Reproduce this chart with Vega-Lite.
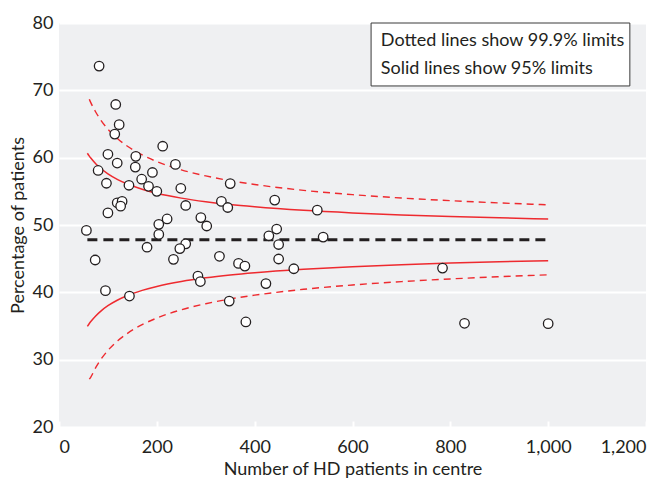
{
  "$schema": "https://vega.github.io/schema/vega-lite/v6.json",
  "width": 587,
  "height": 404,
  "autosize": {"type": "none"},
  "padding": {"left": 59, "top": 23, "right": 19, "bottom": 53},
  "background": "white",
  "config": {
    "font": "Lato",
    "view": {"fill": "#eff0f2", "stroke": null},
    "axis": {
      "labelFont": "Lato",
      "titleFont": "Lato",
      "labelFontSize": 18,
      "titleFontSize": 18,
      "titleFontWeight": "normal",
      "labelColor": "#231f20",
      "titleColor": "#231f20"
    }
  },
  "datasets": {
    "centres": [
      {"patients": 82, "pct": 73.6},
      {"patients": 116, "pct": 67.9},
      {"patients": 123, "pct": 64.9},
      {"patients": 114, "pct": 63.5},
      {"patients": 212, "pct": 61.7},
      {"patients": 100, "pct": 60.5},
      {"patients": 119, "pct": 59.2},
      {"patients": 157, "pct": 60.2},
      {"patients": 156, "pct": 58.6},
      {"patients": 238, "pct": 59.0},
      {"patients": 80, "pct": 58.1},
      {"patients": 191, "pct": 57.8},
      {"patients": 169, "pct": 56.8},
      {"patients": 97, "pct": 56.2},
      {"patients": 143, "pct": 55.9},
      {"patients": 183, "pct": 55.75},
      {"patients": 249, "pct": 55.45},
      {"patients": 200, "pct": 55.0},
      {"patients": 259, "pct": 52.9},
      {"patients": 119, "pct": 53.3},
      {"patients": 129, "pct": 53.5},
      {"patients": 126, "pct": 52.8},
      {"patients": 100, "pct": 51.8},
      {"patients": 56, "pct": 49.2},
      {"patients": 204, "pct": 50.1},
      {"patients": 221, "pct": 50.9},
      {"patients": 204, "pct": 48.6},
      {"patients": 290, "pct": 51.1},
      {"patients": 302, "pct": 49.85},
      {"patients": 180, "pct": 46.7},
      {"patients": 259, "pct": 47.2},
      {"patients": 247, "pct": 46.5},
      {"patients": 234, "pct": 44.9},
      {"patients": 74, "pct": 44.8},
      {"patients": 284, "pct": 42.4},
      {"patients": 289, "pct": 41.6},
      {"patients": 95, "pct": 40.25},
      {"patients": 144, "pct": 39.45},
      {"patients": 350, "pct": 56.15},
      {"patients": 332, "pct": 53.5},
      {"patients": 345, "pct": 52.6},
      {"patients": 441, "pct": 53.7},
      {"patients": 528, "pct": 52.2},
      {"patients": 445, "pct": 49.4},
      {"patients": 429, "pct": 48.4},
      {"patients": 449, "pct": 47.1},
      {"patients": 540, "pct": 48.2},
      {"patients": 328, "pct": 45.35},
      {"patients": 367, "pct": 44.3},
      {"patients": 380, "pct": 43.9},
      {"patients": 449, "pct": 44.95},
      {"patients": 480, "pct": 43.5},
      {"patients": 423, "pct": 41.3},
      {"patients": 348, "pct": 38.7},
      {"patients": 382, "pct": 35.6},
      {"patients": 784, "pct": 43.6},
      {"patients": 829, "pct": 35.4},
      {"patients": 1000, "pct": 35.35}
    ],
    "limits": [
      {"n": 58, "mean": 47.8, "lo95": 34.94, "hi95": 60.66, "lo999": null, "hi999": null},
      {"n": 62, "mean": 47.8, "lo95": 35.37, "hi95": 60.23, "lo999": 27.1, "hi999": 68.67},
      {"n": 65, "mean": 47.8, "lo95": 35.66, "hi95": 59.94, "lo999": 27.42, "hi999": 68.18},
      {"n": 75, "mean": 47.8, "lo95": 36.50, "hi95": 59.11, "lo999": 28.82, "hi999": 66.78},
      {"n": 85, "mean": 47.8, "lo95": 37.18, "hi95": 58.42, "lo999": 29.98, "hi999": 65.63},
      {"n": 100, "mean": 47.8, "lo95": 38.01, "hi95": 57.59, "lo999": 31.37, "hi999": 64.23},
      {"n": 120, "mean": 47.8, "lo95": 38.86, "hi95": 56.74, "lo999": 32.80, "hi999": 62.80},
      {"n": 140, "mean": 47.8, "lo95": 39.53, "hi95": 56.08, "lo999": 33.91, "hi999": 61.69},
      {"n": 170, "mean": 47.8, "lo95": 40.29, "hi95": 55.31, "lo999": 35.20, "hi999": 60.40},
      {"n": 200, "mean": 47.8, "lo95": 40.88, "hi95": 54.72, "lo999": 36.18, "hi999": 59.42},
      {"n": 250, "mean": 47.8, "lo95": 41.61, "hi95": 53.99, "lo999": 37.41, "hi999": 58.19},
      {"n": 300, "mean": 47.8, "lo95": 42.15, "hi95": 53.45, "lo999": 38.31, "hi999": 57.29},
      {"n": 350, "mean": 47.8, "lo95": 42.57, "hi95": 53.03, "lo999": 39.02, "hi999": 56.59},
      {"n": 400, "mean": 47.8, "lo95": 42.91, "hi95": 52.70, "lo999": 39.58, "hi999": 56.02},
      {"n": 500, "mean": 47.8, "lo95": 43.42, "hi95": 52.18, "lo999": 40.45, "hi999": 55.15},
      {"n": 600, "mean": 47.8, "lo95": 43.80, "hi95": 51.80, "lo999": 41.09, "hi999": 54.51},
      {"n": 700, "mean": 47.8, "lo95": 44.10, "hi95": 51.50, "lo999": 41.59, "hi999": 54.01},
      {"n": 800, "mean": 47.8, "lo95": 44.34, "hi95": 51.26, "lo999": 41.99, "hi999": 53.61},
      {"n": 900, "mean": 47.8, "lo95": 44.54, "hi95": 51.06, "lo999": 42.32, "hi999": 53.28},
      {"n": 1000, "mean": 47.8, "lo95": 44.70, "hi95": 50.90, "lo999": 42.60, "hi999": 53.00}
    ],
    "note": [
      {"line": "Dotted lines show 99.9% limits", "pos": 77.3},
      {"line": "Solid lines show 95% limits", "pos": 73.1}
    ]
  },
  "layer": [
    {
      "data": {"name": "limits"},
      "mark": {"type": "line", "color": "#ee2a2f", "strokeWidth": 1.4, "strokeDash": [7, 5], "interpolate": "monotone"},
      "encoding": {
        "x": {"field": "n", "type": "quantitative", "scale": {"domain": [0, 1200], "nice": false},
          "axis": {"title": "Number of HD patients in centre", "values": [0, 200, 400, 600, 800, 1000, 1200], "format": ",d",
            "domain": false, "grid": false, "ticks": true, "tickColor": "white", "tickWidth": 2, "tickSize": -6,
            "labelPadding": 17, "titlePadding": 4}},
        "y": {"field": "hi999", "type": "quantitative", "scale": {"domain": [20, 80], "nice": false},
          "axis": {"title": "Percentage of patients", "values": [20, 30, 40, 50, 60, 70, 80], "domain": false, "ticks": false,
            "grid": true, "gridColor": "white", "gridWidth": 2, "gridOpacity": 1, "labelPadding": 6, "titlePadding": 5}}
      }
    },
    {
      "data": {"name": "limits"},
      "mark": {"type": "line", "color": "#ee2a2f", "strokeWidth": 1.4, "strokeDash": [7, 5], "interpolate": "monotone"},
      "encoding": {"x": {"field": "n", "type": "quantitative"}, "y": {"field": "lo999", "type": "quantitative"}}
    },
    {
      "data": {"name": "limits"},
      "mark": {"type": "line", "color": "#ee2a2f", "strokeWidth": 1.5, "interpolate": "monotone"},
      "encoding": {"x": {"field": "n", "type": "quantitative"}, "y": {"field": "hi95", "type": "quantitative"}}
    },
    {
      "data": {"name": "limits"},
      "mark": {"type": "line", "color": "#ee2a2f", "strokeWidth": 1.5, "interpolate": "monotone"},
      "encoding": {"x": {"field": "n", "type": "quantitative"}, "y": {"field": "lo95", "type": "quantitative"}}
    },
    {
      "data": {"name": "limits"},
      "mark": {"type": "line", "color": "#231f20", "strokeWidth": 3, "strokeDash": [10, 6]},
      "encoding": {"x": {"field": "n", "type": "quantitative"}, "y": {"field": "mean", "type": "quantitative"}}
    },
    {
      "data": {"name": "centres"},
      "mark": {"type": "point", "shape": "circle", "filled": true, "fill": "white", "stroke": "#231f20", "strokeWidth": 1.3, "size": 90, "opacity": 1},
      "encoding": {"x": {"field": "patients", "type": "quantitative"}, "y": {"field": "pct", "type": "quantitative"}}
    },
    {
      "data": {"values": [{}]},
      "mark": {"type": "rect", "fill": "white", "stroke": "#3a3a3a", "strokeWidth": 1},
      "encoding": {
        "x": {"datum": 638}, "x2": {"datum": 1167},
        "y": {"datum": 80}, "y2": {"datum": 70.65}
      }
    },
    {
      "data": {"name": "note"},
      "mark": {"type": "text", "align": "left", "baseline": "middle", "fontSize": 18, "font": "Lato", "color": "#231f20"},
      "encoding": {
        "x": {"datum": 658},
        "y": {"field": "pos", "type": "quantitative"},
        "text": {"field": "line"}
      }
    }
  ]
}
